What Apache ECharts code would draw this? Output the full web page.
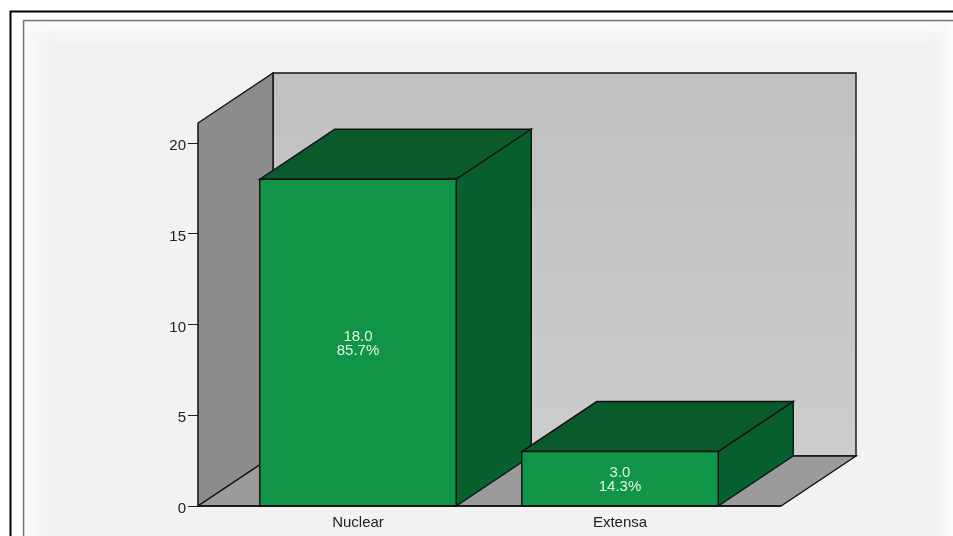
<!DOCTYPE html>
<html><head><meta charset="utf-8">
<style>html,body{margin:0;padding:0;background:#fff;overflow:hidden}#c{width:953px;height:536px}</style>
<script src="https://cdn.jsdelivr.net/npm/echarts@6/dist/echarts.min.js"></script>
</head><body><div id="c"></div>
<script>
const categories = ['Nuclear', 'Extensa'];
const counts = [18.0, 3.0];
const percents = ['85.7%', '14.3%'];
const yTicks = [0, 5, 10, 15, 20];

const DX = 75, DY = -50, HALF = 0.375;
const chart = echarts.init(document.getElementById('c'), null, {renderer: 'canvas'});
const line = {stroke: '#111', lineWidth: 1.4};
function poly(points, fill) {
  return {type: 'polygon', shape: {points}, style: Object.assign({fill}, line)};
}
function grad(x0, y0, x1, y1, a, b) {
  return new echarts.graphic.LinearGradient(x0, y0, x1, y1, [{offset: 0, color: a}, {offset: 1, color: b}]);
}
const EDGE = '#fcfcfc', PANEL = '#f2f2f2';
chart.setOption({
  animation: false,
  backgroundColor: '#fff',
  graphic: [
    {type: 'rect', z: -10, shape: {x: 10.5, y: 11.5, width: 960, height: 540}, style: {fill: '#fff', stroke: '#000', lineWidth: 2}},
    {type: 'rect', z: -9, shape: {x: 23.5, y: 20.5, width: 950, height: 530}, style: {fill: PANEL, stroke: '#777', lineWidth: 1.5}},
    {type: 'rect', z: -8, shape: {x: 25, y: 22, width: 928, height: 24}, style: {fill: grad(0, 0, 0, 1, EDGE, PANEL)}},
    {type: 'rect', z: -8, shape: {x: 25, y: 22, width: 34, height: 514}, style: {fill: grad(0, 0, 1, 0, EDGE, 'rgba(242,242,242,0)')}},
    {type: 'rect', z: -8, shape: {x: 925, y: 22, width: 28, height: 514}, style: {fill: grad(0, 0, 1, 0, 'rgba(242,242,242,0)', EDGE)}}
  ],
  grid: {left: 227, width: 524, top: 123, bottom: 30},
  xAxis: {
    type: 'category', data: categories,
    axisLine: {show: false},
    axisTick: {alignWithLabel: true, length: 8, lineStyle: {color: '#222'}},
    axisLabel: {color: '#222', fontFamily: 'Liberation Sans', fontSize: 15, margin: 9},
    splitLine: {show: false}
  },
  yAxis: {
    type: 'value', min: 0, max: 21.1, interval: 5, offset: 29,
    axisLine: {show: true, lineStyle: {color: '#111', width: 1.4}},
    axisTick: {show: true, length: 10, customValues: yTicks, lineStyle: {color: '#222'}},
    axisLabel: {color: '#222', fontFamily: 'Liberation Sans', fontSize: 15, margin: 12, customValues: yTicks, verticalAlign: 'top', lineHeight: 6},
    splitLine: {show: false}
  },
  series: [
    {
      type: 'custom', silent: true, z: 1, clip: false,
      data: [[0, 0]],
      renderItem(p, api) {
        const B = api.coord([0, 0])[1];
        const topY = p.coordSys.y, L = p.coordSys.x - 29, R = p.coordSys.x + p.coordSys.width + 30;
        return {type: 'group', children: [
          poly([[L + DX, topY + DY], [R + DX, topY + DY], [R + DX, B + DY], [L + DX, B + DY]], grad(0, 0, 0, 1, '#c0c0c0', '#cdcdcd')),
          poly([[L, topY], [L + DX, topY + DY], [L + DX, B + DY], [L, B]], '#8c8c8c'),
          poly([[L, B], [L + DX, B + DY], [R + DX, B + DY], [R, B]], '#9b9b9b')
        ]};
      }
    },
    {
      type: 'custom', silent: true, z: 2, clip: false,
      data: counts.map((v, i) => [i, v]),
      renderItem(p, api) {
        const i = api.value(0), v = api.value(1);
        const c = api.coord([i, v]), z = api.coord([i, 0]);
        const hw = api.size([1, 0])[0] * HALF;
        const l = c[0] - hw, r = c[0] + hw, t = c[1], b = z[1];
        return {type: 'group', children: [
          poly([[l, t], [l + DX, t + DY], [r + DX, t + DY], [r, t]], '#0a5a2c'),
          poly([[r, t], [r + DX, t + DY], [r + DX, b + DY], [r, b]], '#07602e'),
          poly([[l, t], [r, t], [r, b], [l, b]], '#109448'),
          {type: 'text', z2: 5, style: {
            x: c[0], y: (t + b) / 2 + 1.5, text: v.toFixed(1) + '\n' + percents[i],
            align: 'center', verticalAlign: 'middle', fill: '#e4f5e8',
            font: '15px "Liberation Sans"', lineHeight: 14
          }}
        ]};
      }
    },
    {
      type: 'custom', silent: true, z: 3, clip: false,
      data: [[0, 0]],
      renderItem(p, api) {
        const B = api.coord([0, 0])[1];
        const L = p.coordSys.x - 29, R = p.coordSys.x + p.coordSys.width + 30;
        return {type: 'line', shape: {x1: L, y1: B, x2: R, y2: B}, style: {stroke: '#111', lineWidth: 1.6}};
      }
    }
  ]
});
</script></body></html>
